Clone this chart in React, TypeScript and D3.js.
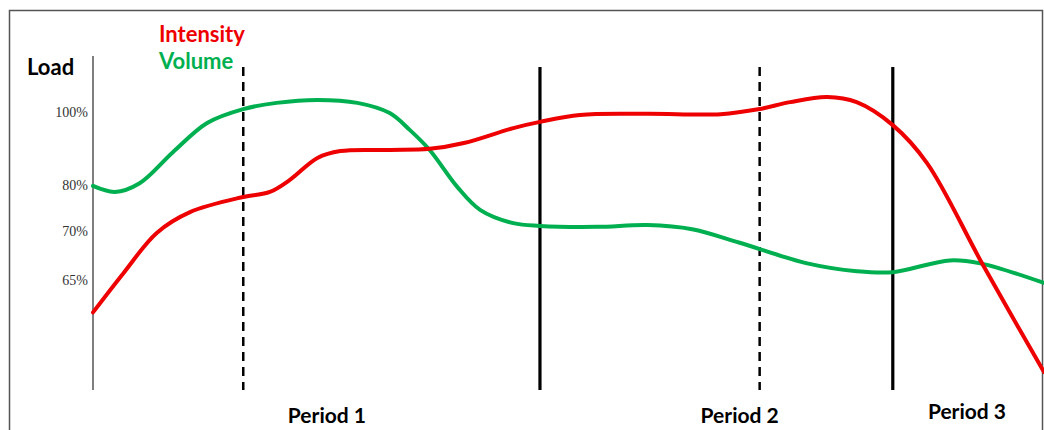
import * as d3 from "d3"

// timeline position (0..100) and load (%)
const volumeX = [0, 2.3, 4.9, 8.4, 12, 15.8, 19.3, 23.6, 27.8, 31.2, 33.3, 35.4, 38.3, 40.7, 44.2, 47, 53, 58.3, 63, 68, 75.1, 80.3, 84.1, 90.1, 93.3, 100]
const volumeY = [79.8, 78.5, 80.5, 89, 97, 100.8, 102.5, 103.3, 102.5, 99.7, 95.1, 89.6, 79.6, 74.6, 71.7, 71.1, 70.9, 71.3, 70.4, 68.8, 66.7, 65.9, 65.8, 67, 66.7, 64.7]

const intensityX = [0, 3.2, 6.7, 10.2, 15.8, 18.6, 20.7, 23.6, 26, 31.2, 35.4, 39, 44.2, 47, 51.2, 58.3, 66, 70.1, 73.3, 77.2, 80.3, 84.1, 87.7, 93.6, 100]
const intensityY = [61.7, 65.7, 69.8, 74.1, 77.4, 78.5, 81.4, 87.4, 89.3, 89.6, 89.9, 91.5, 95.6, 97.3, 99.2, 99.5, 99.4, 100.8, 102.7, 104.1, 102.7, 96.4, 86, 66.5, 55.6]

const tickValues = [100, 80, 70, 65]
const tickLabels = ["100%", "80%", "70%", "65%"]

const boundaryX = [15.8, 47, 70.1, 84.1]
const boundaryDashed = [true, false, true, false]

const periodLabels = ["Period 1", "Period 2", "Period 3"]
const periodX = [24.6, 68, 91.9]
const periodRaise = [0, 0, 4]

const RED = "#ee0000"
const GREEN = "#00b050"

export default function App() {
  const W = 1044
  const H = 430
  const x = d3.scaleLinear().domain([0, 100]).range([93, 1044])
  // uneven label spacing on the original, so a piecewise scale
  const y = d3.scaleLinear().domain([65, 70, 80, 100]).range([280, 231, 185, 112])

  const line = d3.line<[number, number]>()
    .x((d) => x(d[0]))
    .y((d) => y(d[1]))
    .curve(d3.curveCatmullRom.alpha(0.5))

  const volume = line(volumeX.map((v, i) => [v, volumeY[i]] as [number, number])) ?? ""
  const intensity = line(intensityX.map((v, i) => [v, intensityY[i]] as [number, number])) ?? ""

  const sans = "Lato, 'Open Sans', sans-serif"

  return (
    <svg width={W} height={H} style={{ position: "absolute", left: 0, top: 0, background: "#fff" }}>
      <rect x={9.5} y={10.5} width={1033} height={440} fill="none" stroke="#555" strokeWidth={1.5} />

      <line x1={x(0)} x2={x(0)} y1={56} y2={390} stroke="#555" strokeWidth={1.5} />

      {tickValues.map((t, i) => (
        <text key={t} x={88} y={y(t)} dy="0.35em" textAnchor="end"
          fontFamily="'Liberation Serif', 'DejaVu Serif', serif" fontSize={14} fill="#333">
          {tickLabels[i]}
        </text>
      ))}

      {boundaryX.map((b, i) => (
        <line key={b} x1={x(b)} x2={x(b)} y1={67} y2={390} stroke="#000"
          strokeWidth={boundaryDashed[i] ? 2.5 : 3.2}
          strokeDasharray={boundaryDashed[i] ? "9 6" : undefined} />
      ))}

      <g fill="none" strokeLinecap="round">
        <path d={volume} stroke={GREEN} strokeWidth={4} />
        <path d={intensity} stroke={RED} strokeWidth={4} />
      </g>

      <text x={27} y={75} fontFamily={sans} fontWeight={700} fontSize={22} fill="#000">Load</text>
      <text x={159} y={42} fontFamily={sans} fontWeight={700} fontSize={22} fill={RED}>Intensity</text>
      <text x={159} y={69} fontFamily={sans} fontWeight={700} fontSize={22} fill={GREEN}>Volume</text>

      {periodLabels.map((p, i) => (
        <text key={p} x={x(periodX[i])} y={423 - periodRaise[i]} textAnchor="middle"
          fontFamily={sans} fontWeight={700} fontSize={21} fill="#000">
          {p}
        </text>
      ))}
    </svg>
  )
}
